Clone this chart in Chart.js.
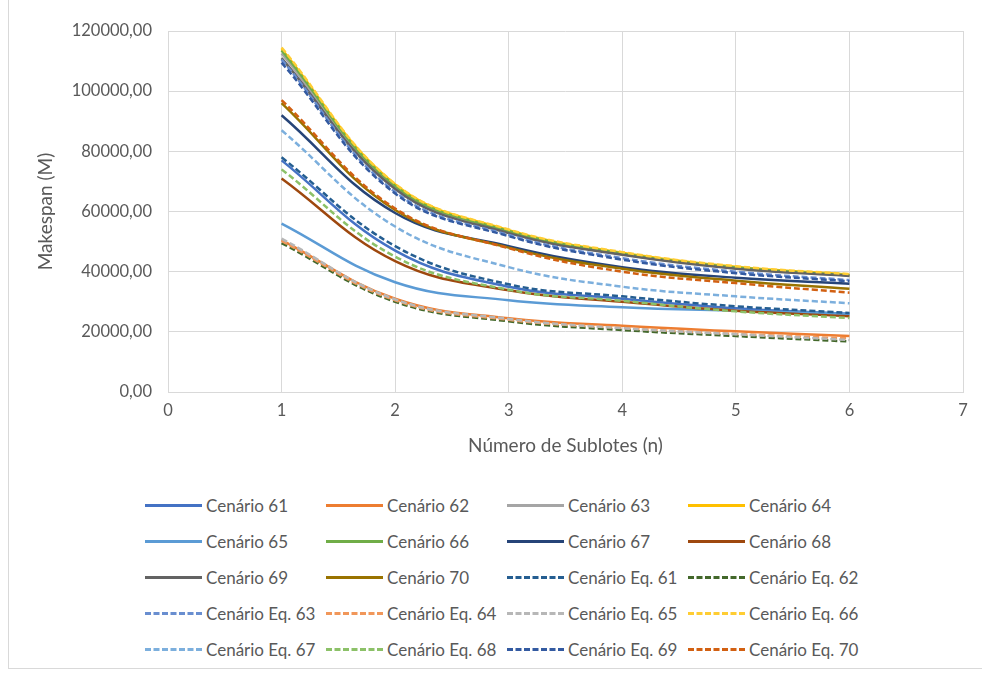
<!DOCTYPE html>
<html>
<head>
<meta charset="utf-8">
<script src="https://cdn.jsdelivr.net/npm/chart.js@4.4.1/dist/chart.umd.min.js"></script>
<style>
  html, body { margin: 0; padding: 0; background: #fff; }
  body { width: 982px; height: 675px; position: relative; overflow: hidden; font-family: Lato, "Open Sans", sans-serif; }
  #frame { position: absolute; left: 8px; top: 0; width: 974px; height: 668px; border-left: 1px solid #d9d9d9; border-bottom: 1px solid #d9d9d9; }
  #wrap { position: absolute; left: 0; top: 0; width: 982px; height: 461px; }
  #legend { position: absolute; left: 145px; top: 495px; width: 740px; }
  .item { position: absolute; height: 20px; display: flex; align-items: center; color: #595959; font-size: 17px; white-space: nowrap; }
  .swatch { width: 57px; height: 0; margin-right: 4px; }
</style>
</head>
<body>
<div id="frame"></div>
<div id="wrap"><canvas id="chart" width="982" height="461"></canvas></div>
<div id="legend"></div>
<script>
// Makespan por número de sublotes - cenários 61 a 70 e respectivas equações

const sublotes = [1, 2, 3, 4, 5, 6];

const c61 = [77000, 47000, 35000, 31000, 27800, 26000];
const c62 = [50500, 31000, 24500, 22000, 20200, 18600];
const c63 = [112500, 68000, 53000, 45800, 41200, 38700];
const c64 = [114000, 69000, 53800, 46300, 41600, 39000];
const c65 = [56000, 36500, 30500, 28200, 27000, 26000];
const c66 = [113500, 68500, 53500, 46000, 41400, 38800];
const c67 = [92000, 59500, 48500, 41500, 38000, 36000];
const c68 = [71000, 43500, 33800, 30000, 27000, 25200];
const c69 = [111000, 67500, 52800, 45600, 41000, 38600];
const c70 = [96000, 60500, 48000, 41000, 37000, 34300];
const e61 = [78000, 48500, 35800, 31800, 28500, 26300];
const e62 = [49500, 30000, 23500, 20600, 18600, 16800];
const e63 = [110500, 66500, 52200, 44500, 40000, 37200];
const e64 = [50200, 30500, 24000, 21300, 19300, 17800];
const e65 = [51000, 30800, 24300, 21200, 19200, 17300];
const e66 = [114500, 69200, 54000, 46500, 41800, 39200];
const e67 = [87000, 55000, 41500, 35000, 31800, 29500];
const e68 = [74000, 45000, 34000, 30300, 26800, 24600];
const e69 = [109500, 66000, 51800, 44000, 39500, 36800];
const e70 = [97000, 61000, 47800, 40000, 36200, 33000];

const series = [
  ['Cenário 61', c61, '#4472C4', false],
  ['Cenário 62', c62, '#ED7D31', false],
  ['Cenário 63', c63, '#A5A5A5', false],
  ['Cenário 64', c64, '#FFC000', false],
  ['Cenário 65', c65, '#5B9BD5', false],
  ['Cenário 66', c66, '#70AD47', false],
  ['Cenário 67', c67, '#264478', false],
  ['Cenário 68', c68, '#9E480E', false],
  ['Cenário 69', c69, '#636363', false],
  ['Cenário 70', c70, '#997300', false],
  ['Cenário Eq. 61', e61, '#255E91', true],
  ['Cenário Eq. 62', e62, '#43682B', true],
  ['Cenário Eq. 63', e63, '#698ED0', true],
  ['Cenário Eq. 64', e64, '#F1975A', true],
  ['Cenário Eq. 65', e65, '#B7B7B7', true],
  ['Cenário Eq. 66', e66, '#FFCD33', true],
  ['Cenário Eq. 67', e67, '#7CAFDD', true],
  ['Cenário Eq. 68', e68, '#8CC168', true],
  ['Cenário Eq. 69', e69, '#335AA1', true],
  ['Cenário Eq. 70', e70, '#D26012', true]
];

const datasets = series.map((s, i) => ({
  label: s[0],
  data: sublotes.map((x, j) => ({ x: x, y: s[1][j] })),
  borderColor: s[2],
  backgroundColor: s[2],
  borderWidth: 2.5,
  borderDash: s[3] ? [6, 3] : [],
  pointRadius: 0,
  showLine: true,
  fill: false,
  tension: 0.4,
  order: series.length - i
}));

const txt = '#595959';
const grid = '#d9d9d9';

new Chart(document.getElementById('chart'), {
  type: 'scatter',
  data: { datasets: datasets },
  options: {
    responsive: false,
    animation: false,
    layout: { padding: { left: 30, right: 19, top: 31, bottom: 0 } },
    plugins: { legend: { display: false }, tooltip: { enabled: false } },
    scales: {
      x: {
        type: 'linear', min: 0, max: 7,
        ticks: { stepSize: 1, color: txt, font: { family: 'Lato', size: 16.5 }, padding: 9 },
        grid: { color: grid, drawTicks: false },
        border: { color: grid },
        title: { display: true, text: 'Número de Sublotes (n)', color: txt, font: { family: 'Lato', size: 19 } },
        afterFit: function(scale) { scale.height = 69; }
      },
      y: {
        min: 0, max: 120000,
        ticks: {
          stepSize: 20000, color: txt, font: { family: 'Lato', size: 16.5 }, padding: 16,
          callback: v => v.toFixed(2).replace('.', ',')
        },
        grid: { color: grid, drawTicks: false },
        border: { display: false },
        title: { display: true, text: 'Makespan (M)', color: txt, font: { family: 'Lato', size: 19 } },
        afterFit: function(scale) { scale.width = 138; }
      }
    }
  }
});

// legenda em 4 colunas
const legend = document.getElementById('legend');
series.forEach((s, i) => {
  const item = document.createElement('div');
  item.className = 'item';
  item.style.left = (i % 4) * 181 + 'px';
  item.style.top = Math.floor(i / 4) * 36.2 + 'px';
  const sw = document.createElement('span');
  sw.className = 'swatch';
  sw.style.borderTop = '3px ' + (s[3] ? 'dashed ' : 'solid ') + s[2];
  item.appendChild(sw);
  item.appendChild(document.createTextNode(s[0]));
  legend.appendChild(item);
});
</script>
</body>
</html>
